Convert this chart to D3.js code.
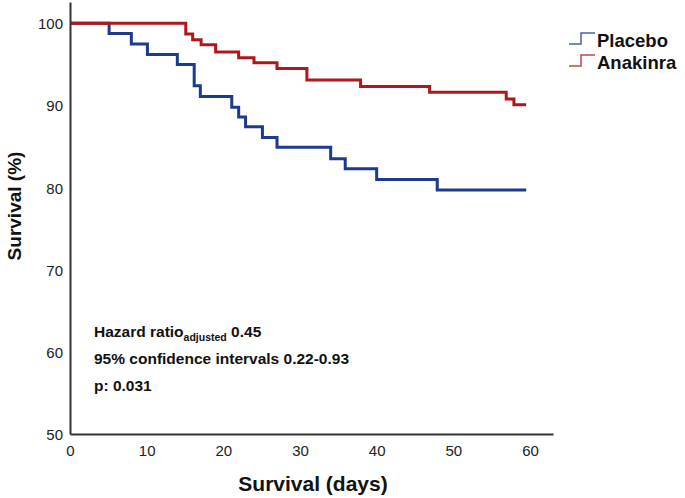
<!DOCTYPE html>
<html>
<head>
<meta charset="utf-8">
<script src="https://cdn.jsdelivr.net/npm/d3@7"></script>
<style>
  html, body { margin: 0; padding: 0; background: #fff; }
  svg { display: block; font-family: "Liberation Sans", Arial, sans-serif; }
</style>
</head>
<body>
<svg id="chart" width="685" height="498"></svg>
<script>
// ---- Data ----
const placeboTimes  = [0, 5.1, 8.0, 10.1, 14.0, 16.2, 17.0, 21.1, 22.0, 22.9, 25.1, 27.0, 34.0, 35.9, 40.0, 47.9, 59.5];
const placeboSurv   = [100, 98.75, 97.5, 96.2, 95.0, 92.4, 91.1, 89.8, 88.6, 87.4, 86.1, 84.9, 83.5, 82.3, 81.0, 79.7, 79.7];
const anakinraTimes = [0, 15.1, 16.0, 17.1, 19.0, 22.0, 24.0, 27.0, 30.9, 37.9, 46.9, 56.9, 57.9, 59.5];
const anakinraSurv  = [100, 98.7, 98.0, 97.4, 96.5, 95.8, 95.2, 94.5, 93.1, 92.3, 91.6, 90.8, 90.1, 90.1];
const xTicks = [0, 10, 20, 30, 40, 50, 60];
const yTicks = [50, 60, 70, 80, 90, 100];
const seriesNames = ["Placebo", "Anakinra"];
const seriesColors = ["#1c3a8e", "#b0171c"];
const annotationLines = ["95% confidence intervals 0.22-0.93", "p: 0.031"];

const svg = d3.select("#chart");
const x = d3.scaleLinear().domain([0, 63]).range([70, 553]);
const y = d3.scaleLinear().domain([50, 102.6]).range([434, 2]);

const series = [
  { name: seriesNames[0], color: seriesColors[0], pts: placeboTimes.map((t, i) => [t, placeboSurv[i]]) },
  { name: seriesNames[1], color: seriesColors[1], pts: anakinraTimes.map((t, i) => [t, anakinraSurv[i]]) }
];

const line = d3.line().x(d => x(d[0])).y(d => y(d[1])).curve(d3.curveStepAfter);

// curves
series.forEach(s => {
  svg.append("path")
    .datum(s.pts)
    .attr("fill", "none")
    .attr("stroke", s.color)
    .attr("stroke-width", 3)
    .attr("d", line);
});

// axes
const xAxis = d3.axisBottom(x).tickValues(xTicks).tickSize(0).tickPadding(11).tickSizeOuter(0);
const yAxis = d3.axisLeft(y).tickValues(yTicks).tickSize(0).tickPadding(7).tickSizeOuter(0);

const gx = svg.append("g").attr("transform", "translate(0,434)").call(xAxis);
const gy = svg.append("g").attr("transform", "translate(70,0)").call(yAxis);
[gx, gy].forEach(g => {
  g.select(".domain").attr("stroke", "#333").attr("stroke-width", 2);
  g.selectAll("text").attr("fill", "#222").style("font-size", "15px")
    .style("font-family", "'Liberation Sans', Arial, sans-serif");
});
gy.selectAll("text").attr("dy", "0.36em");

// axis titles
svg.append("text")
  .attr("x", 313).attr("y", 491)
  .attr("text-anchor", "middle")
  .style("font-size", "21px").style("font-weight", "bold").attr("fill", "#111")
  .text("Survival (days)");
svg.append("text")
  .attr("transform", "translate(21,206) rotate(-90)")
  .attr("text-anchor", "middle")
  .style("font-size", "19px").style("font-weight", "bold").attr("fill", "#111")
  .text("Survival (%)");

// legend
const lg = svg.append("g");
series.forEach((s, i) => {
  const by = 44 + i * 22;
  lg.append("path")
    .attr("d", `M569,${by} H581 V${by - 11} H595`)
    .attr("fill", "none").attr("stroke", s.color).attr("stroke-width", 1.5).attr("opacity", 0.8);
  lg.append("text")
    .attr("x", 597).attr("y", by + 3)
    .style("font-size", "18.5px").style("font-weight", "bold").attr("fill", "#111")
    .text(s.name);
});

// annotation
const ann = svg.append("text").attr("x", 94).attr("y", 337)
  .style("font-size", "15.5px").style("font-weight", "bold").attr("fill", "#111");
ann.append("tspan").text("Hazard ratio");
ann.append("tspan").attr("dy", 4).style("font-size", "10.5px").text("adjusted");
ann.append("tspan").attr("dy", -4).text(" 0.45");
annotationLines.forEach((t, i) => {
  svg.append("text").attr("x", 94).attr("y", 364 + i * 26.5)
    .style("font-size", "15.5px").style("font-weight", "bold").attr("fill", "#111")
    .text(t);
});
</script>
</body>
</html>
